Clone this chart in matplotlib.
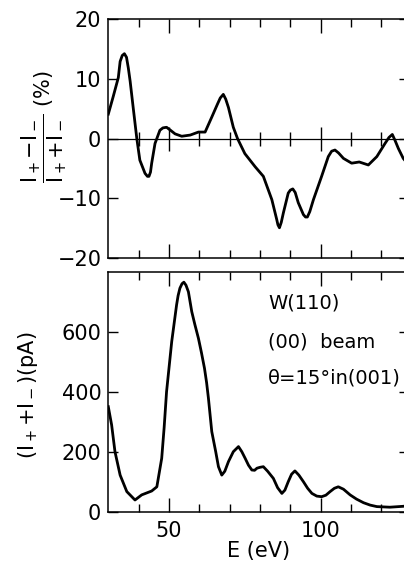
import numpy as np
import matplotlib.pyplot as plt

# spin asymmetry (%) vs energy
E_asym = [30, 31.6, 33.3, 33.9, 34.6, 35.3, 36.0, 36.6, 37.2, 38.2, 39.4, 40.4, 42.1, 42.9, 43.4,
          43.9, 44.3, 45.4, 47.0, 48.0, 49.2, 50.5, 52.0, 54.2, 57.0, 59.7, 61.9, 64.1, 66.0,
          66.9, 67.9, 68.7, 69.6, 71.2, 72.6, 75.0, 78.4, 81.1, 83.9, 85.5, 85.9, 86.4, 87.0,
          87.7, 89.3, 90.0, 90.8, 91.6, 92.6, 94.3, 95.0, 95.6, 96.4, 97.6, 100.3, 102.5, 103.6,
          104.7, 105.9, 107.5, 110.2, 112.7, 115.7, 118.5, 121.2, 122.5, 123.6, 124.5, 125.6,
          127.2, 130]
asym = [4.1, 7.0, 10.2, 12.9, 13.9, 14.2, 13.6, 11.8, 9.6, 5.2, 0.0, -3.6, -5.8, -6.3, -6.3,
        -5.6, -4.1, -0.8, 1.4, 1.8, 1.9, 1.4, 0.8, 0.4, 0.6, 1.1, 1.1, 3.6, 5.8,
        6.8, 7.4, 6.6, 5.2, 1.9, 0.0, -2.5, -4.7, -6.3, -10.2, -13.5, -14.4, -14.9, -14.0,
        -12.4, -9.1, -8.6, -8.4, -9.0, -10.7, -12.7, -13.1, -13.1, -12.2, -10.2, -6.3, -3.0, -2.1,
        -1.9, -2.4, -3.3, -4.1, -3.9, -4.4, -3.0, -0.8, 0.2, 0.7, -0.3, -1.65,
        -3.3, -5.0]

# total intensity (pA) vs energy
E_int = [30, 31.1, 32.2, 33.9, 36.1, 38.8, 41.0, 44.3, 46.0, 47.6, 48.4, 49.2, 50.9, 52.5,
         53.0, 53.6, 54.3, 54.9, 55.6, 56.4, 57.5, 58.5, 59.7, 60.7, 61.7, 62.4, 63.0, 64.1,
         65.4, 66.3, 67.4, 68.4, 69.6, 71.2, 72.9, 74.0, 75.1, 76.2, 77.3, 78.2, 79.0, 80.0,
         81.1, 82.5, 84.4, 85.8, 87.2, 88.2, 89.3, 90.4, 91.5, 92.8, 94.3, 95.7, 97.1, 98.7,
         100.3, 101.7, 103.1, 104.5, 105.8, 107.5, 109.7, 111.8, 114.1, 116.3, 118.5, 122.8,
         127.2, 130]
intensity = [350, 289, 200, 122, 67, 39, 56, 69, 83, 178, 280, 400, 567, 689,
             720, 745, 760, 765, 755, 733, 667, 625, 578, 530, 478, 430, 378, 267,
             200, 150, 122, 135, 167, 200, 217, 200, 178, 155, 139, 138, 145, 148,
             150, 135, 111, 80, 61, 72, 100, 125, 136, 122, 100, 78, 61, 52,
             50, 55, 67, 78, 83, 75, 56, 42, 30, 22, 17, 15,
             18, 22]

major_E = [50, 100]
minor_E = [40, 60, 70, 80, 90, 110, 120]

plt.rcParams['font.family'] = 'DejaVu Sans'
plt.rcParams['mathtext.fontset'] = 'dejavusans'

W, H = 404, 567
fig = plt.figure(figsize=(W / 100, H / 100), dpi=100)

left = 108.3 / W
width = 300.4 / W
ax1 = fig.add_axes([left, 1 - 258.3 / H, width, 239.3 / H])
ax2 = fig.add_axes([left, 1 - 511.7 / H, width, 240.0 / H])

for ax in (ax1, ax2):
    ax.set_xlim(30, 129)
    ax.set_xticks(major_E)
    ax.set_xticks(minor_E, minor=True)
    ax.tick_params(axis='x', which='major', direction='in', top=True, bottom=True,
                   length=10, width=1.0, labelsize=15, pad=7)
    ax.tick_params(axis='x', which='minor', direction='in', top=True, bottom=True,
                   length=5.5, width=1.0)
    ax.tick_params(axis='y', direction='in', left=True, right=True,
                   length=7, width=1.0, labelsize=15, pad=5)
    for s in ax.spines.values():
        s.set_linewidth(1.1)

# top: asymmetry
ax1.plot(E_asym, asym, color='black', lw=2.0, solid_joinstyle='round')
ax1.axhline(0, color='black', lw=0.9)
ax1.plot(minor_E, np.zeros(len(minor_E)), ls='none', marker='|', ms=10, mew=1.0, color='black')
ax1.plot(major_E, np.zeros(len(major_E)), ls='none', marker='|', ms=17, mew=1.0, color='black')
ax1.set_ylim(-20, 20)
ax1.set_yticks([-20, -10, 0, 10, 20])
ax1.set_yticklabels(['\u221220', '\u221210', '0', '10', '20'])
ax1.tick_params(axis='x', labelbottom=False)
ax1.set_ylabel(r'$\dfrac{\mathrm{I}_+{-}\mathrm{I}_-}{\mathrm{I}_+{+}\mathrm{I}_-}$ (%)', fontsize=15)
ax1.yaxis.set_label_coords(-0.13, 0.55)

# bottom: intensity
ax2.plot(E_int, intensity, color='black', lw=2.0, solid_joinstyle='round')
ax2.set_ylim(0, 800)
ax2.set_yticks([0, 200, 400, 600])
ax2.set_xlabel('E (eV)', fontsize=15, labelpad=0)
ax2.set_ylabel(r'$(\mathrm{I}_+{+}\mathrm{I}_-)$(pA)', fontsize=15)
ax2.yaxis.set_label_coords(-0.227, 0.486)

ax2.text(82.6, 696, 'W(110)', fontsize=14, va='center', ha='left')
ax2.text(82.6, 566, '(00)  beam', fontsize=14, va='center', ha='left')
ax2.text(82.6, 446, '\u03b8=15\u00b0in(001)', fontsize=14, va='center', ha='left')

fig.savefig('out.png', dpi=100)
